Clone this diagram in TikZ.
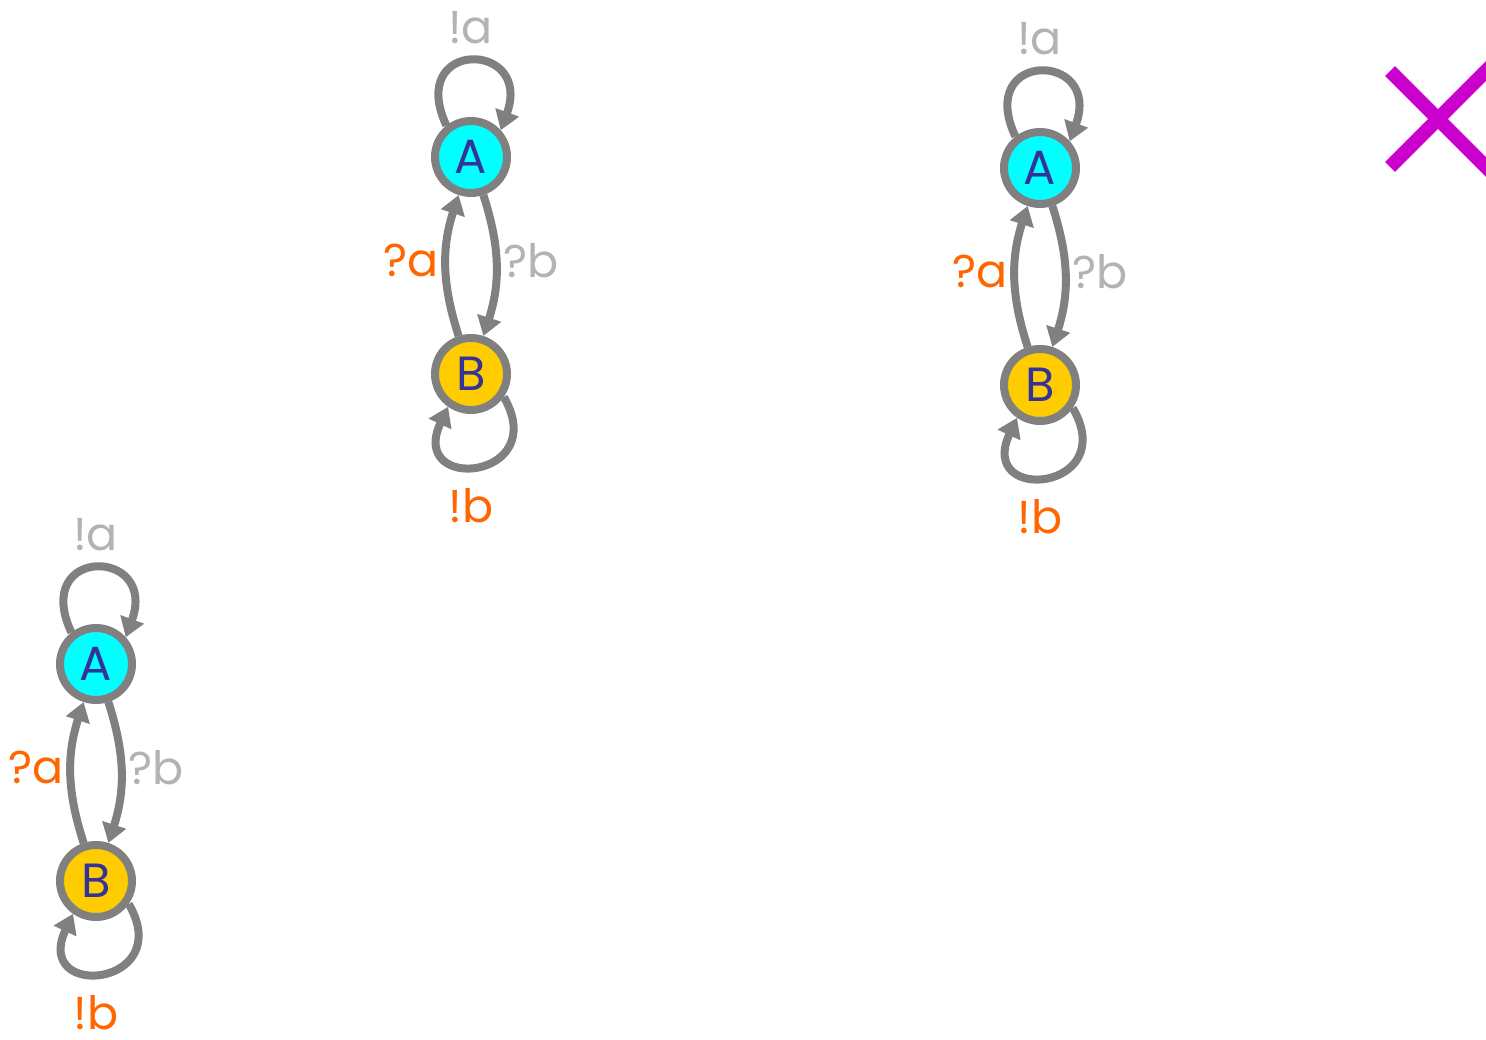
\documentclass[tikz,border=0pt]{standalone}
\usepackage{fontspec}
\setmainfont{Poppins}
\usetikzlibrary{arrows.meta}

\definecolor{edgegray}{HTML}{808080}
\definecolor{lblgray}{HTML}{B3B3B3}
\definecolor{lblorange}{HTML}{FF6600}
\definecolor{fillA}{HTML}{00FFFF}
\definecolor{fillB}{HTML}{FFCC00}
\definecolor{letter}{HTML}{333399}
\definecolor{xmark}{HTML}{CC00CC}

\tikzset{
  state/.style={circle, draw=edgegray, line width=8pt, minimum size=72pt,
    inner sep=0pt, text=letter, font=\fontsize{48}{54}\selectfont},
  trans/.style={draw=edgegray, line width=8pt,
    -{Triangle[length=19pt,width=24pt]}},
  lbl/.style={font=\fontsize{46}{52}\selectfont, inner sep=3pt},
}

\begin{document}
\begin{tikzpicture}[x=1pt, y=1pt]
\useasboundingbox (0,0) rectangle (1486,1039);

% the same two-state machine, three times
\foreach \i/\x/\y in {1/471/882, 2/1040/871, 3/96/375} {
  \node[state, fill=fillA] (A\i) at (\x,\y) {A};
  \node[state, fill=fillB] (B\i) at (\x,\y-217) {B};

  \draw[trans] (A\i.128) .. controls +(115:96) and +(70:96) .. (A\i.42)
    node[lbl,pos=0.5,above=10pt,text=lblgray] {!a};
  \draw[trans] (B\i.-35) .. controls +(-60:96) and +(-115:96) .. (B\i.-125)
    node[lbl,pos=0.5,below=16pt,xshift=-8pt,text=lblorange] {!b};
  \draw[trans] (B\i) to[bend left=18]
    node[lbl,left,yshift=5pt,text=lblorange] {?a} (A\i);
  \draw[trans] (A\i) to[bend left=18]
    node[lbl,right,yshift=5pt,text=lblgray] {?b} (B\i);
}

% cross, cut off at the right edge
\coordinate (cx) at (1438,920);
\draw[xmark, line width=14pt] (cx) ++(-48,48) -- ++(110,-110);
\draw[xmark, line width=14pt] (cx) ++(-48,-48) -- ++(110,110);

\end{tikzpicture}
\end{document}
